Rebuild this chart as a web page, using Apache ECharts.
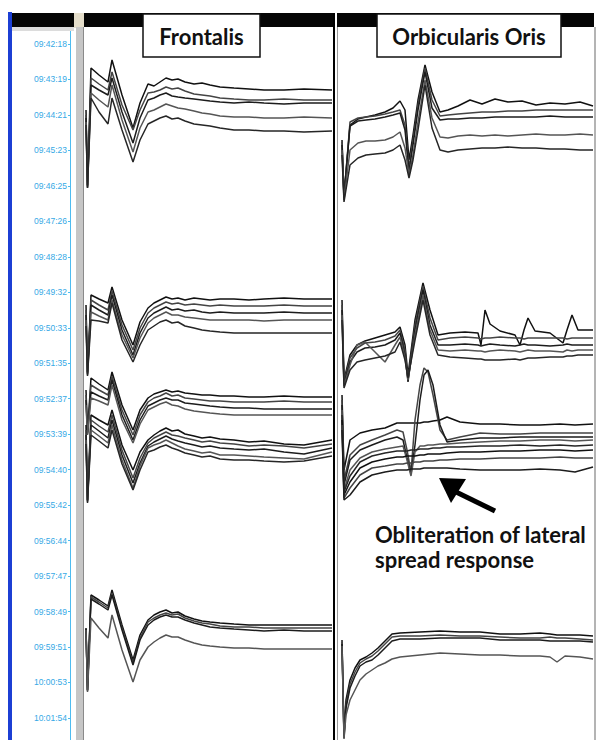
<!DOCTYPE html>
<html>
<head>
<meta charset="utf-8">
<title>Frontalis / Orbicularis Oris</title>
<script src="https://cdn.jsdelivr.net/npm/echarts@6/dist/echarts.min.js"></script>
<style>
  html, body { margin: 0; padding: 0; background: #fff; }
  #chart { width: 601px; height: 740px; }
</style>
</head>
<body>
<div id="chart"></div>
<script>
// sweep start times (left column)
var sweepTimes = ['09:42:18', '09:43:19', '09:44:21', '09:45:23', '09:46:25', '09:47:26', '09:48:28',
  '09:49:32', '09:50:33', '09:51:35', '09:52:37', '09:53:39', '09:54:40', '09:55:42', '09:56:44',
  '09:57:47', '09:58:49', '09:59:51', '10:00:53', '10:01:54'];
var rowStep = 35.47;

// Frontalis: samples along the sweep, one y list per trace
var frontalisX = [2, 3.5, 7, 15, 24, 28, 38, 49, 56, 64, 70, 76, 82, 88, 94, 101, 110, 118, 126, 136, 150, 165, 180, 200, 220, 248];
var frontalis1 = [
  [66, 141, 24, 31, 38, 16, 51, 84, 59, 40, 42, 38, 34, 36, 35, 38, 40, 39, 41, 43, 44, 45, 46, 46, 45, 46],
  [71, 142, 34, 40, 46, 28, 61, 86, 66, 49, 48, 46, 43, 45, 44, 47, 50, 51, 52, 54, 55, 56, 56, 55, 56, 56],
  [74, 143, 41, 46, 51, 34, 68, 99, 74, 56, 54, 51, 49, 52, 53, 54, 55, 56, 57, 58, 59, 58, 59, 60, 59, 59],
  [78, 144, 49, 56, 63, 41, 76, 108, 84, 68, 66, 63, 60, 62, 64, 65, 67, 69, 70, 72, 73, 73, 74, 74, 73, 74],
  [81, 144, 54, 68, 80, 54, 86, 118, 96, 80, 77, 74, 72, 75, 74, 77, 80, 81, 82, 84, 86, 86, 87, 87, 88, 87]
];
var frontalis2 = [
  [261, 328, 251, 255, 259, 243, 276, 301, 278, 264, 259, 256, 253, 255, 254, 256, 254, 255, 256, 255, 255, 256, 255, 254, 255, 255],
  [266, 329, 256, 261, 266, 247, 281, 306, 284, 269, 264, 261, 258, 260, 259, 261, 260, 261, 262, 261, 262, 262, 262, 261, 262, 262],
  [271, 330, 261, 266, 271, 251, 286, 311, 289, 274, 269, 266, 263, 266, 265, 267, 266, 268, 269, 268, 269, 269, 269, 268, 269, 269],
  [276, 331, 268, 272, 276, 256, 291, 314, 294, 279, 274, 271, 268, 271, 271, 273, 274, 275, 276, 276, 276, 276, 277, 276, 276, 276],
  [282, 332, 276, 277, 279, 259, 296, 318, 301, 286, 282, 278, 276, 279, 278, 282, 284, 286, 287, 288, 289, 289, 289, 289, 289, 289]
];
var frontalis3 = [
  [346, 388, 334, 340, 346, 328, 361, 386, 366, 354, 350, 348, 346, 348, 347, 349, 350, 351, 351, 352, 352, 353, 353, 352, 353, 353],
  [351, 389, 341, 346, 351, 332, 366, 391, 371, 358, 354, 352, 349, 352, 351, 354, 355, 356, 357, 357, 358, 358, 358, 357, 358, 358],
  [356, 390, 348, 352, 356, 336, 371, 396, 376, 362, 359, 356, 354, 356, 356, 359, 360, 361, 362, 363, 364, 364, 365, 365, 365, 365],
  [361, 391, 354, 357, 361, 341, 376, 399, 380, 366, 363, 360, 358, 361, 362, 365, 367, 368, 369, 370, 371, 371, 371, 371, 371, 371]
];
var frontalis4 = [
  [381, 456, 371, 376, 381, 366, 401, 426, 408, 396, 391, 387, 384, 387, 386, 390, 392, 394, 393, 395, 396, 398, 397, 400, 401, 396],
  [386, 456, 376, 382, 388, 371, 406, 434, 414, 399, 394, 391, 388, 391, 392, 394, 396, 398, 397, 399, 400, 402, 401, 402, 404, 400],
  [391, 457, 381, 387, 394, 376, 411, 439, 419, 402, 398, 395, 392, 395, 397, 399, 401, 403, 402, 404, 405, 406, 405, 408, 410, 404],
  [396, 458, 386, 392, 399, 381, 416, 444, 422, 404, 401, 399, 396, 399, 402, 405, 407, 409, 408, 411, 411, 412, 413, 414, 415, 408],
  [400, 459, 391, 397, 404, 386, 420, 446, 426, 408, 406, 403, 401, 404, 406, 409, 411, 413, 412, 415, 416, 416, 417, 418, 417, 412]
];
var frontalis5 = [
  [584, 646, 551, 556, 562, 546, 581, 616, 591, 576, 571, 568, 566, 569, 568, 572, 575, 577, 578, 579, 580, 581, 581, 581, 581, 581],
  [584, 646, 553, 558, 564, 549, 584, 619, 594, 578, 574, 571, 569, 571, 570, 574, 577, 579, 580, 582, 583, 583, 584, 584, 584, 584],
  [585, 647, 555, 560, 566, 551, 586, 621, 596, 581, 576, 573, 571, 573, 573, 576, 579, 581, 583, 584, 585, 586, 587, 586, 587, 587],
  [586, 648, 574, 584, 594, 571, 606, 638, 616, 603, 598, 594, 591, 593, 593, 596, 599, 601, 602, 603, 604, 604, 605, 605, 605, 605]
];

// Orbicularis Oris
var orbic1X = [4, 6, 12, 20, 28, 37, 47, 55, 62, 67, 71, 75, 80, 87, 94, 102, 110, 120, 132, 144, 157, 170, 184, 198, 212, 227, 242, 255];
var orbic1 = [
  [96, 151, 81, 75, 73, 71, 68, 64, 57, 66, 116, 91, 56, 21, 48, 68, 66, 62, 56, 60, 55, 58, 57, 61, 59, 60, 58, 62],
  [98, 153, 78, 74, 73, 72, 70, 68, 66, 81, 124, 96, 61, 24, 56, 72, 71, 70, 69, 68, 68, 67, 67, 66, 66, 66, 66, 66],
  [101, 154, 82, 77, 76, 75, 73, 71, 69, 86, 128, 101, 66, 28, 64, 76, 75, 75, 74, 74, 73, 73, 73, 73, 72, 73, 73, 73],
  [106, 156, 106, 99, 97, 97, 96, 93, 88, 104, 131, 111, 78, 36, 74, 93, 94, 92, 91, 92, 91, 92, 91, 90, 91, 91, 90, 91],
  [111, 158, 121, 114, 111, 110, 109, 106, 101, 116, 134, 116, 86, 41, 84, 106, 108, 106, 105, 104, 104, 103, 104, 104, 105, 105, 106, 106]
];
var orbic2X = [4, 6, 12, 19, 27, 37, 47, 57, 62, 67, 70, 77, 85, 92, 100, 112, 127, 140, 143, 147, 152, 162, 177, 182, 186, 190, 197, 212, 225, 229, 234, 240, 255];
var orbic2 = [
  [256, 336, 311, 301, 297, 294, 291, 288, 283, 301, 331, 276, 239, 266, 291, 289, 288, 289, 301, 266, 280, 287, 291, 301, 286, 274, 287, 289, 299, 286, 271, 286, 286],
  [261, 338, 314, 304, 299, 298, 296, 292, 286, 306, 336, 281, 242, 274, 296, 294, 293, 294, 295, 294, 294, 293, 294, 294, 295, 294, 294, 294, 294, 295, 294, 294, 294],
  [266, 340, 318, 308, 304, 303, 301, 296, 289, 311, 338, 286, 246, 281, 301, 301, 300, 301, 302, 301, 300, 301, 302, 301, 300, 301, 301, 302, 301, 300, 301, 301, 301],
  [271, 342, 321, 301, 298, 308, 318, 301, 293, 314, 336, 291, 251, 286, 306, 307, 306, 307, 307, 308, 307, 306, 307, 308, 307, 306, 307, 307, 308, 306, 307, 306, 306],
  [276, 344, 326, 318, 316, 314, 312, 308, 298, 316, 334, 296, 256, 291, 311, 313, 314, 315, 315, 316, 316, 316, 315, 316, 315, 314, 314, 313, 313, 312, 312, 311, 311]
];
var orbic3X = [4, 6, 12, 22, 34, 47, 59, 65, 69, 73, 77, 82, 86, 90, 95, 102, 109, 122, 142, 162, 182, 202, 222, 237, 255];
var orbic3 = [
  [351, 426, 396, 389, 386, 384, 379, 379, 379, 379, 379, 379, 378, 378, 377, 376, 373, 378, 380, 380, 381, 381, 380, 381, 380],
  [356, 436, 411, 401, 396, 391, 386, 388, 406, 428, 376, 341, 324, 328, 351, 386, 396, 393, 389, 390, 390, 389, 389, 389, 389],
  [361, 441, 416, 406, 401, 396, 393, 396, 414, 430, 401, 356, 331, 326, 341, 381, 398, 396, 394, 394, 393, 393, 393, 393, 393],
  [366, 446, 426, 414, 408, 405, 403, 402, 416, 432, 408, 402, 402, 401, 401, 400, 400, 399, 398, 397, 397, 396, 396, 397, 396],
  [371, 448, 432, 418, 412, 409, 407, 407, 407, 406, 406, 405, 405, 405, 404, 404, 403, 403, 402, 402, 401, 402, 401, 402, 401],
  [376, 451, 438, 424, 418, 415, 413, 413, 412, 412, 412, 411, 411, 410, 410, 410, 409, 408, 408, 407, 407, 406, 406, 407, 406],
  [381, 454, 444, 431, 424, 422, 420, 420, 419, 419, 418, 418, 417, 417, 417, 416, 416, 415, 415, 414, 414, 414, 413, 414, 414],
  [386, 456, 451, 438, 431, 428, 426, 426, 426, 425, 425, 425, 424, 424, 424, 424, 424, 425, 426, 426, 426, 425, 426, 428, 423]
];
var orbic4X = [4, 6, 8, 12, 17, 22, 28, 34, 40, 47, 54, 62, 82, 102, 122, 142, 162, 182, 202, 212, 219, 227, 242, 255];
var orbic4 = [
  [596, 691, 656, 636, 624, 616, 613, 609, 604, 597, 590, 589, 588, 587, 588, 588, 590, 590, 589, 590, 591, 591, 591, 592],
  [598, 692, 661, 640, 628, 619, 615, 612, 607, 600, 593, 592, 592, 591, 592, 592, 593, 594, 594, 593, 594, 594, 595, 596],
  [600, 694, 664, 644, 632, 622, 618, 616, 611, 604, 597, 595, 595, 594, 594, 594, 596, 596, 596, 597, 597, 597, 597, 598],
  [602, 695, 671, 656, 646, 636, 630, 626, 622, 619, 615, 613, 611, 609, 610, 611, 611, 612, 612, 613, 618, 612, 613, 615]
];

var traceColors = ['#111111', '#444444', '#1c1c1c', '#555555', '#262626'];

function traceSeries (xs, traces, axisIndex) {
  return traces.map(function (ys, i) {
    return {
      type: 'line',
      xAxisIndex: axisIndex,
      yAxisIndex: axisIndex,
      showSymbol: false,
      silent: true,
      animation: false,
      lineStyle: { color: traceColors[i % traceColors.length], width: 1.5 },
      data: ys.map(function (y, j) { return [xs[j], y] })
    }
  })
}

var series = [].concat(
  traceSeries(frontalisX, frontalis1, 1),
  traceSeries(frontalisX, frontalis2, 1),
  traceSeries(frontalisX, frontalis3, 1),
  traceSeries(frontalisX, frontalis4, 1),
  traceSeries(frontalisX, frontalis5, 1),
  traceSeries(orbic1X, orbic1, 2),
  traceSeries(orbic2X, orbic2, 2),
  traceSeries(orbic3X, orbic3, 2),
  traceSeries(orbic4X, orbic4, 2)
);

var rowValues = sweepTimes.map(function (t, i) { return i * rowStep });

function hiddenY (idx) {
  return { gridIndex: idx, type: 'value', min: -16, max: 696, inverse: true, show: false }
}

var myChart = echarts.init(document.getElementById('chart'), null, { renderer: 'svg' });
myChart.setOption({
  backgroundColor: '#ffffff',
  animation: false,
  grid: [
    { left: 70, top: 28, width: 1, bottom: 0 },
    { left: 84, top: 28, width: 248, bottom: 0 },
    { left: 338, top: 28, width: 255, bottom: 0 }
  ],
  xAxis: [
    { gridIndex: 0, type: 'value', min: 0, max: 1, show: false },
    { gridIndex: 1, type: 'value', min: 0, max: 248, show: false },
    { gridIndex: 2, type: 'value', min: 0, max: 255, show: false }
  ],
  yAxis: [
    {
      gridIndex: 0,
      type: 'value',
      min: -16,
      max: 696,
      inverse: true,
      position: 'left',
      axisLine: { show: true, lineStyle: { color: '#4dbbf0', width: 1 } },
      axisTick: { show: true, length: 2, customValues: rowValues, lineStyle: { color: '#4dbbf0' } },
      splitLine: { show: false },
      axisLabel: {
        customValues: rowValues,
        margin: 3,
        color: '#36a9e6',
        fontSize: 8.5,
        fontFamily: 'Liberation Sans, Arial, sans-serif',
        formatter: function (v) { return sweepTimes[Math.round(v / rowStep)] }
      }
    },
    hiddenY(1),
    hiddenY(2)
  ],
  graphic: [
    // window chrome
    { type: 'rect', shape: { x: 8, y: 12, width: 4, height: 728 }, style: { fill: '#1c3fd4' }, z: 1 },
    { type: 'rect', shape: { x: 12, y: 13, width: 62, height: 14 }, style: { fill: '#050505' }, z: 1 },
    { type: 'rect', shape: { x: 74, y: 13, width: 10, height: 15 }, style: { fill: '#e4ddca' }, z: 1 },
    { type: 'rect', shape: { x: 84, y: 13, width: 250, height: 14 }, style: { fill: '#050505' }, z: 1 },
    { type: 'rect', shape: { x: 337, y: 13, width: 257, height: 14 }, style: { fill: '#050505' }, z: 1 },
    { type: 'rect', shape: { x: 12, y: 27, width: 62, height: 4 }, style: { fill: '#dcdcdc' }, z: 1 },
    { type: 'rect', shape: { x: 76, y: 27, width: 7, height: 713 }, style: { fill: '#c6c6c6' }, z: 1 },
    { type: 'line', shape: { x1: 83.5, y1: 27, x2: 83.5, y2: 740 }, style: { stroke: '#8a8a8a', lineWidth: 1 }, z: 1 },
    { type: 'line', shape: { x1: 334, y1: 13, x2: 334, y2: 740 }, style: { stroke: '#000', lineWidth: 2 }, z: 1 },
    { type: 'line', shape: { x1: 337.5, y1: 27, x2: 337.5, y2: 740 }, style: { stroke: '#9a9a9a', lineWidth: 1 }, z: 1 },
    { type: 'line', shape: { x1: 595, y1: 27, x2: 595, y2: 740 }, style: { stroke: '#b4b4b4', lineWidth: 2 }, z: 1 },
    // panel titles
    { type: 'rect', shape: { x: 143, y: 14, width: 117, height: 43 }, style: { fill: '#fff', stroke: '#111', lineWidth: 1.5 }, z: 10 },
    { type: 'text', x: 201.5, y: 36, style: { text: 'Frontalis', font: 'bold 22px Lato, "Open Sans", sans-serif', fill: '#111', align: 'center', verticalAlign: 'middle', textAlign: 'center', textVerticalAlign: 'middle' }, z: 11 },
    { type: 'rect', shape: { x: 377, y: 14, width: 184, height: 43 }, style: { fill: '#fff', stroke: '#111', lineWidth: 1.5 }, z: 10 },
    { type: 'text', x: 469, y: 36, style: { text: 'Orbicularis Oris', font: 'bold 22px Lato, "Open Sans", sans-serif', fill: '#111', align: 'center', verticalAlign: 'middle', textAlign: 'center', textVerticalAlign: 'middle' }, z: 11 },
    // annotation
    { type: 'line', shape: { x1: 452, y1: 490, x2: 495, y2: 511 }, style: { stroke: '#000', lineWidth: 5 }, z: 10 },
    { type: 'polygon', shape: { points: [[439, 478], [466, 479], [451, 503]] }, style: { fill: '#000' }, z: 10 },
    { type: 'text', x: 375, y: 534, style: { text: 'Obliteration of lateral', font: 'bold 22px Lato, "Open Sans", sans-serif', fill: '#111', align: 'left', verticalAlign: 'middle', textAlign: 'left', textVerticalAlign: 'middle' }, z: 10 },
    { type: 'text', x: 375, y: 559, style: { text: 'spread response', font: 'bold 22px Lato, "Open Sans", sans-serif', fill: '#111', align: 'left', verticalAlign: 'middle', textAlign: 'left', textVerticalAlign: 'middle' }, z: 10 }
  ],
  series: series
});
</script>
</body>
</html>
